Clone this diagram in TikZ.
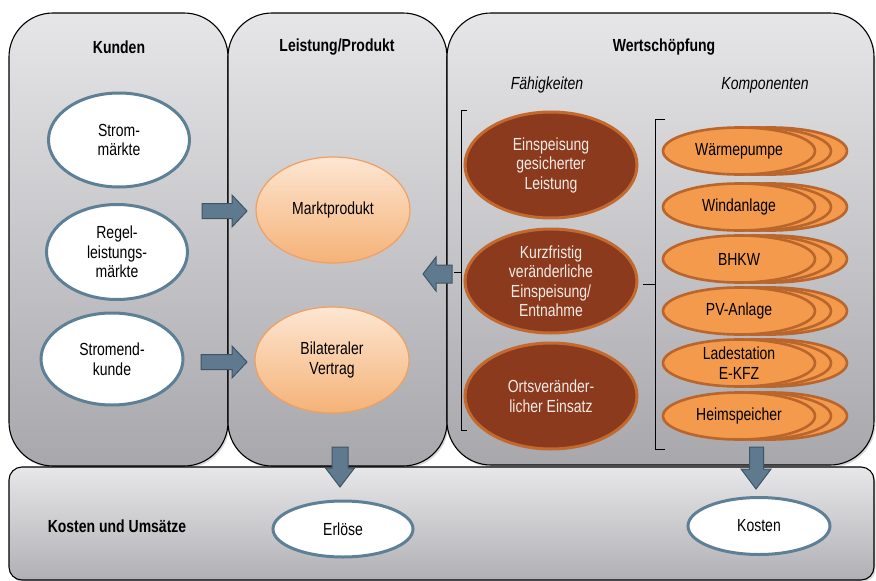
\documentclass[tikz,border=0pt]{standalone}
\usepackage{fontspec}
\setmainfont{Liberation Sans}[FakeStretch=0.8]
\usetikzlibrary{shapes.geometric,shadows}
\definecolor{panelTop}{HTML}{E6E6E8}
\definecolor{panelBot}{HTML}{A8A7AC}
\definecolor{blueLine}{HTML}{5E8097}
\definecolor{arrowFill}{HTML}{5F7A8F}
\definecolor{arrowLine}{HTML}{3F5465}
\definecolor{peachTop}{HTML}{FDE6D2}
\definecolor{peachBot}{HTML}{F5B277}
\definecolor{peachLine}{HTML}{F0A060}
\definecolor{brownFill}{HTML}{8B3A1E}
\definecolor{brownLine}{HTML}{C4692E}
\definecolor{compFill}{HTML}{F49A4C}
\definecolor{compLine}{HTML}{B9652B}
\definecolor{lightText}{HTML}{F4ECE6}
\begin{document}
\begin{tikzpicture}[x=1pt,y=-1pt,
  font=\fontsize{17.5}{19.5}\selectfont,
  panel/.style={draw=black, line width=1.1pt, rounded corners=44pt,
    top color=panelTop, bottom color=panelBot,
    drop shadow={opacity=0.3, shadow xshift=1.5pt, shadow yshift=-2pt}},
  basepanel/.style={draw=black, line width=1.1pt, rounded corners=13pt,
    top color=panelTop!95!white, bottom color=panelBot!90!white,
    drop shadow={opacity=0.3, shadow xshift=1.5pt, shadow yshift=-2pt}},
  title/.style={font=\fontsize{17.5}{19.5}\selectfont\bfseries},
  subtitle/.style={font=\fontsize{17.5}{19.5}\selectfont\itshape},
  ell/.style={ellipse, inner sep=0pt, align=center},
  whiteell/.style={ell, draw=blueLine, line width=3pt, fill=white},
  peachell/.style={ell, draw=peachLine, line width=1.2pt,
    top color=peachTop, bottom color=peachBot, minimum width=154pt, minimum height=106pt},
  brownell/.style={ell, draw=brownLine, line width=3pt, fill=brownFill,
    text=lightText, minimum width=172pt, minimum height=106pt},
  compell/.style={ell, draw=compLine, line width=2.6pt, fill=compFill,
    minimum width=152pt, minimum height=47pt},
  blockarrow/.style={draw=arrowLine, line width=1pt, fill=arrowFill, line join=miter},
  bracket/.style={draw=black, line width=1pt}
]
\useasboundingbox (0,0) rectangle (876,581);

% panels
\path[panel] (9,13) rectangle (228,466);
\path[panel] (228,13) rectangle (447,466);
\path[panel] (447,13) rectangle (874,465);
\path[basepanel] (9,467) rectangle (874,580);

% panel titles
\node[title] (tKunden) at (119,47) {Kunden};
\node[title] (tLeistung) at (337,47) {Leistung/Produkt};
\node[title] (tWert) at (664,47) {Wertschöpfung};
\node[subtitle] (tFaeh) at (547,85) {Fähigkeiten};
\node[subtitle] (tKomp) at (765,85) {Komponenten};
\node[title] (tKosten) at (117,526) {Kosten und Umsätze};

% customers
\node[whiteell, minimum width=141pt, minimum height=94pt] (strom) at (119,140) {Strom-\\märkte};
\node[whiteell, minimum width=141pt, minimum height=95pt] (regel) at (117,252) {Regel-\\leistungs-\\märkte};
\node[whiteell, minimum width=142pt, minimum height=92pt] (endkunde) at (112,359) {Stromend-\\kunde};

% products
\node[peachell] (markt) at (333,210) {Marktprodukt};
\node[peachell] (bilat) at (332,360) {Bilateraler\\Vertrag};

% capabilities
\node[brownell] (f1) at (551,165) {Einspeisung\\gesicherter\\Leistung};
\node[brownell, minimum height=104pt] (f2) at (551,281) {Kurzfristig\\veränderliche\\Einspeisung/\\Entnahme};
\node[brownell] (f3) at (551,396) {Ortsveränder-\\licher Einsatz};

% components: three stacked ellipses each
\foreach \y/\n/\t in {151/c1/Wärmepumpe, 207/c2/Windanlage, 259/c3/BHKW,
                      311/c4/PV-Anlage, 363/c5/{Ladestation\\E-KFZ}, 416/c6/Heimspeicher}{
  \node[compell] (\n b) at (771,\y) {};
  \node[compell] (\n a) at (755,\y) {};
  \node[compell] (\n) at (739,\y) {\t};
}

% revenues and costs
\node[whiteell, minimum width=140pt, minimum height=56pt] (erloese) at (343,529) {Erlöse};
\node[whiteell, minimum width=142pt, minimum height=57pt] (kosten) at (759,526) {Kosten};

% brackets
\draw[bracket] (467,110) -- (461,110) -- (461,430) -- (467,430);
\coordinate (fnotch) at (454,272);
\draw[bracket] (461,272) -- (fnotch);
\draw[bracket] (665,119) -- (655,119) -- (655,449) -- (665,449);
\coordinate (knotch) at (643,284);
\draw[bracket] (655,284) -- (knotch);

% block arrows
\draw[blockarrow] (202,203.5) -- (232,203.5) -- (232,195) -- (247,211) -- (232,227)
  -- (232,218.5) -- (202,218.5) -- cycle;
\draw[blockarrow] (201,354.5) -- (232,354.5) -- (232,346) -- (247,362) -- (232,378)
  -- (232,369.5) -- (201,369.5) -- cycle;
\draw[blockarrow] (452,265) -- (436,265) -- (436,257) -- (423,274) -- (436,291)
  -- (436,283) -- (452,283) -- cycle;
\draw[blockarrow] (332,447) -- (348,447) -- (348,468) -- (354.5,468) -- (340,487)
  -- (325.5,468) -- (332,468) -- cycle;
\draw[blockarrow] (749.5,447) -- (763.5,447) -- (763.5,469) -- (771,469) -- (756,489)
  -- (741,469) -- (749.5,469) -- cycle;
\end{tikzpicture}
\end{document}
